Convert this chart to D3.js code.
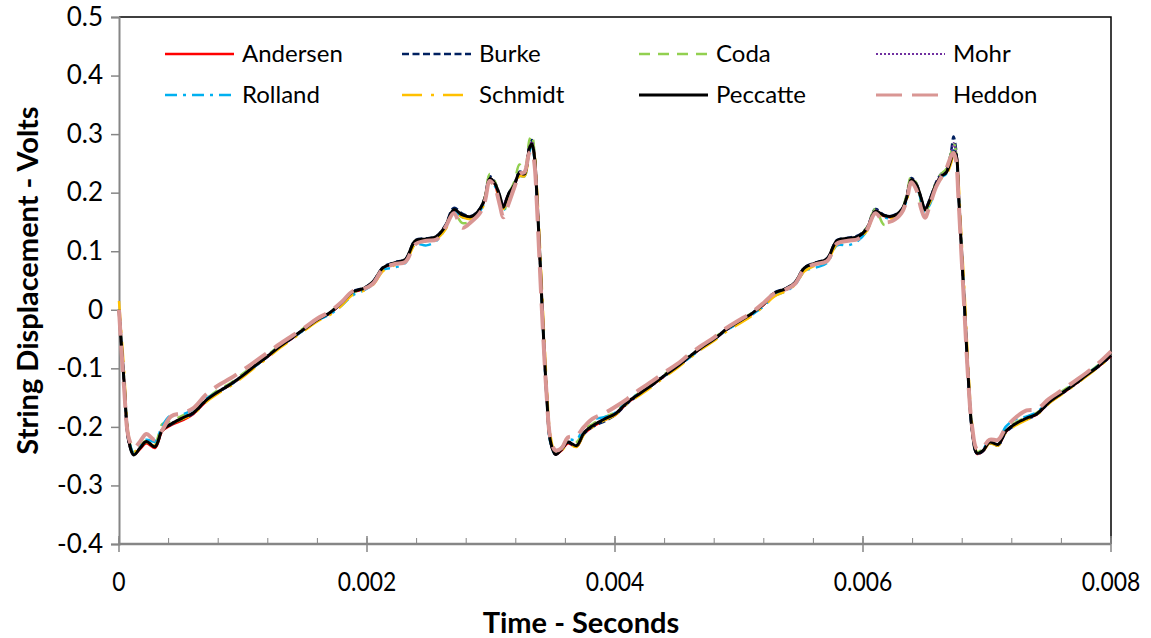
<!DOCTYPE html>
<html>
<head>
<meta charset="utf-8">
<script src="https://cdn.jsdelivr.net/npm/d3@7"></script>
<style>
  body { margin: 0; background: #fff; }
  text { font-family: Lato, "Open Sans", sans-serif; fill: #000; }
</style>
</head>
<body>
<section></section>
<script>
// time in milliseconds (axis shows seconds)
var timeMs = [
  0, 0.04, 0.08, 0.12, 0.17, 0.22, 0.29, 0.35, 0.42, 0.52,
  0.6, 0.7, 0.8, 0.9, 1.0, 1.1, 1.2, 1.3, 1.4, 1.5,
  1.6, 1.7, 1.8, 1.88, 1.98, 2.05, 2.13, 2.22, 2.31, 2.39,
  2.48, 2.56, 2.63, 2.7, 2.77, 2.84, 2.91, 2.95, 2.99, 3.03,
  3.07, 3.1, 3.14, 3.19, 3.23, 3.27, 3.31, 3.33, 3.35, 3.37,
  3.39, 3.42, 3.45, 3.48, 3.52,
  3.57, 3.62, 3.69, 3.75, 3.82, 3.92, 4.0, 4.1, 4.2, 4.3,
  4.4, 4.5, 4.6, 4.7, 4.8, 4.9, 5.0, 5.1, 5.2, 5.28,
  5.38, 5.45, 5.53, 5.62, 5.71, 5.79, 5.88, 5.96, 6.03, 6.1,
  6.17, 6.24, 6.31, 6.35, 6.39, 6.43, 6.47, 6.5, 6.54, 6.59,
  6.63, 6.67, 6.71, 6.73, 6.75, 6.77, 6.79, 6.82, 6.85, 6.88,
  6.92,
  6.97, 7.02, 7.09, 7.15, 7.22, 7.32, 7.4, 7.5, 7.6, 7.7, 7.8, 7.9, 8.0
];

var andersen = [
  0, -0.12, -0.226, -0.247, -0.238, -0.228, -0.236, -0.207, -0.197, -0.188,
  -0.178, -0.157, -0.141, -0.128, -0.113, -0.096, -0.08, -0.063, -0.048, -0.032,
  -0.017, -0.006, 0.012, 0.029, 0.036, 0.047, 0.071, 0.079, 0.085, 0.116,
  0.12, 0.124, 0.141, 0.169, 0.16, 0.157, 0.17, 0.188, 0.222, 0.215,
  0.185, 0.178, 0.196, 0.213, 0.233, 0.231, 0.278, 0.285, 0.263, 0.196,
  0.11, -0.03, -0.15, -0.226, -0.247,
  -0.24, -0.228, -0.234, -0.212, -0.2, -0.188, -0.18, -0.159, -0.144, -0.129,
  -0.113, -0.098, -0.081, -0.065, -0.051, -0.034, -0.021, -0.008, 0.009, 0.027,
  0.035, 0.045, 0.071, 0.079, 0.086, 0.117, 0.121, 0.124, 0.138, 0.168,
  0.16, 0.158, 0.169, 0.19, 0.222, 0.213, 0.188, 0.17, 0.187, 0.215,
  0.228, 0.234, 0.258, 0.272, 0.266, 0.202, 0.12, 0.0, -0.12, -0.206,
  -0.246,
  -0.241, -0.227, -0.231, -0.209, -0.197, -0.186, -0.179, -0.159, -0.144, -0.129, -0.113, -0.097, -0.079
];

var burke = [
  0, -0.122, -0.228, -0.247, -0.236, -0.226, -0.233, -0.206, -0.196, -0.186,
  -0.177, -0.156, -0.141, -0.128, -0.113, -0.096, -0.08, -0.063, -0.048, -0.033,
  -0.018, -0.006, 0.013, 0.031, 0.038, 0.049, 0.073, 0.081, 0.087, 0.119,
  0.122, 0.126, 0.144, 0.174, 0.164, 0.16, 0.173, 0.192, 0.228, 0.218,
  0.196, 0.176, 0.198, 0.216, 0.236, 0.234, 0.282, 0.29, 0.265, 0.196,
  0.108, -0.032, -0.152, -0.227, -0.247,
  -0.238, -0.227, -0.233, -0.212, -0.2, -0.19, -0.18, -0.16, -0.144, -0.129,
  -0.113, -0.098, -0.081, -0.065, -0.051, -0.034, -0.021, -0.008, 0.01, 0.029,
  0.037, 0.047, 0.073, 0.081, 0.088, 0.119, 0.123, 0.127, 0.14, 0.172,
  0.162, 0.161, 0.171, 0.192, 0.225, 0.216, 0.19, 0.172, 0.19, 0.218,
  0.232, 0.238, 0.27, 0.296, 0.275, 0.205, 0.12, -0.002, -0.122, -0.207,
  -0.246,
  -0.241, -0.228, -0.232, -0.21, -0.198, -0.187, -0.179, -0.159, -0.144, -0.129, -0.113, -0.097, -0.079
];

var coda = [
  0, -0.115, -0.222, -0.244, -0.232, -0.223, -0.228, -0.195, -0.19, -0.18,
  -0.172, -0.153, -0.137, -0.125, -0.109, -0.093, -0.077, -0.06, -0.045, -0.03,
  -0.016, -0.004, 0.012, 0.028, 0.035, 0.046, 0.07, 0.079, 0.085, 0.116,
  0.12, 0.124, 0.14, 0.166, 0.148, 0.152, 0.168, 0.192, 0.232, 0.22,
  0.19, 0.165, 0.195, 0.22, 0.248, 0.24, 0.29, 0.298, 0.27, 0.2,
  0.115, -0.025, -0.145, -0.222, -0.245,
  -0.235, -0.222, -0.226, -0.205, -0.195, -0.183, -0.175, -0.156, -0.141, -0.126,
  -0.11, -0.095, -0.078, -0.063, -0.048, -0.032, -0.019, -0.006, 0.01, 0.027,
  0.035, 0.045, 0.07, 0.079, 0.086, 0.116, 0.12, 0.124, 0.14, 0.172,
  0.145, 0.152, 0.168, 0.195, 0.228, 0.216, 0.18, 0.163, 0.185, 0.218,
  0.232, 0.24, 0.268, 0.285, 0.27, 0.205, 0.125, 0.005, -0.115, -0.2,
  -0.243,
  -0.236, -0.222, -0.226, -0.205, -0.194, -0.183, -0.176, -0.156, -0.14, -0.126, -0.11, -0.094, -0.076
];

var mohr = [
  0, -0.118, -0.224, -0.246, -0.235, -0.224, -0.232, -0.204, -0.194, -0.183,
  -0.175, -0.154, -0.139, -0.126, -0.111, -0.094, -0.078, -0.061, -0.046, -0.031,
  -0.016, -0.005, 0.013, 0.03, 0.037, 0.047, 0.071, 0.08, 0.086, 0.117,
  0.121, 0.125, 0.142, 0.17, 0.161, 0.158, 0.171, 0.19, 0.225, 0.217,
  0.19, 0.182, 0.198, 0.214, 0.235, 0.233, 0.279, 0.287, 0.264, 0.194,
  0.106, -0.03, -0.15, -0.224, -0.246,
  -0.237, -0.225, -0.231, -0.209, -0.197, -0.185, -0.177, -0.157, -0.142, -0.127,
  -0.111, -0.096, -0.079, -0.063, -0.049, -0.032, -0.019, -0.006, 0.011, 0.028,
  0.036, 0.046, 0.071, 0.08, 0.087, 0.117, 0.122, 0.125, 0.139, 0.17,
  0.16, 0.159, 0.17, 0.19, 0.223, 0.215, 0.19, 0.174, 0.19, 0.217,
  0.23, 0.236, 0.262, 0.285, 0.268, 0.2, 0.118, -0.002, -0.12, -0.205,
  -0.245,
  -0.239, -0.225, -0.229, -0.207, -0.195, -0.184, -0.177, -0.157, -0.142, -0.127, -0.111, -0.095, -0.077
];

var rolland = [
  0, -0.118, -0.222, -0.244, -0.232, -0.222, -0.225, -0.198, -0.18, -0.178,
  -0.17, -0.152, -0.14, -0.128, -0.112, -0.096, -0.079, -0.062, -0.048, -0.033,
  -0.018, -0.008, 0.008, 0.024, 0.034, 0.044, 0.068, 0.072, 0.08, 0.112,
  0.11, 0.118, 0.138, 0.168, 0.158, 0.154, 0.168, 0.186, 0.222, 0.212,
  0.188, 0.17, 0.19, 0.21, 0.228, 0.228, 0.27, 0.279, 0.258, 0.192,
  0.108, -0.035, -0.155, -0.228, -0.246,
  -0.235, -0.222, -0.222, -0.2, -0.188, -0.183, -0.176, -0.156, -0.142, -0.128,
  -0.113, -0.098, -0.082, -0.066, -0.051, -0.035, -0.022, -0.009, 0.006, 0.023,
  0.032, 0.042, 0.066, 0.072, 0.08, 0.11, 0.11, 0.118, 0.134, 0.165,
  0.158, 0.156, 0.166, 0.186, 0.218, 0.21, 0.186, 0.168, 0.18, 0.212,
  0.226, 0.232, 0.255, 0.272, 0.262, 0.198, 0.122, 0.002, -0.118, -0.206,
  -0.246,
  -0.238, -0.222, -0.222, -0.2, -0.188, -0.182, -0.175, -0.156, -0.142, -0.127, -0.111, -0.095, -0.077
];

var schmidt = [
  0.015, -0.1, -0.218, -0.242, -0.235, -0.226, -0.232, -0.206, -0.195, -0.186,
  -0.178, -0.158, -0.143, -0.13, -0.115, -0.098, -0.082, -0.065, -0.05, -0.035,
  -0.02, -0.009, 0.008, 0.025, 0.033, 0.043, 0.066, 0.076, 0.082, 0.112,
  0.117, 0.121, 0.136, 0.166, 0.158, 0.155, 0.166, 0.184, 0.219, 0.213,
  0.19, 0.172, 0.19, 0.208, 0.228, 0.228, 0.27, 0.28, 0.265, 0.21,
  0.13, -0.005, -0.13, -0.215, -0.245,
  -0.24, -0.23, -0.234, -0.213, -0.2, -0.188, -0.18, -0.16, -0.146, -0.131,
  -0.115, -0.1, -0.083, -0.067, -0.053, -0.037, -0.024, -0.011, 0.006, 0.022,
  0.032, 0.042, 0.066, 0.076, 0.083, 0.112, 0.118, 0.122, 0.134, 0.165,
  0.158, 0.156, 0.165, 0.183, 0.216, 0.212, 0.188, 0.17, 0.183, 0.21,
  0.224, 0.23, 0.25, 0.265, 0.266, 0.22, 0.14, 0.025, -0.1, -0.195,
  -0.243,
  -0.241, -0.228, -0.232, -0.21, -0.199, -0.188, -0.18, -0.16, -0.145, -0.13, -0.114, -0.098, -0.08
];

var peccatte = [
  0, -0.12, -0.225, -0.248, -0.236, -0.225, -0.234, -0.205, -0.195, -0.184,
  -0.176, -0.155, -0.14, -0.127, -0.112, -0.095, -0.079, -0.062, -0.047, -0.032,
  -0.017, -0.005, 0.013, 0.03, 0.037, 0.048, 0.072, 0.08, 0.086, 0.118,
  0.121, 0.125, 0.142, 0.171, 0.162, 0.159, 0.172, 0.19, 0.224, 0.216,
  0.195, 0.175, 0.197, 0.214, 0.234, 0.232, 0.276, 0.283, 0.262, 0.195,
  0.11, -0.03, -0.15, -0.225, -0.247,
  -0.238, -0.226, -0.232, -0.21, -0.198, -0.186, -0.178, -0.158, -0.143, -0.128,
  -0.112, -0.097, -0.08, -0.064, -0.05, -0.033, -0.02, -0.007, 0.01, 0.028,
  0.036, 0.046, 0.072, 0.08, 0.087, 0.118, 0.122, 0.125, 0.138, 0.168,
  0.161, 0.16, 0.17, 0.19, 0.222, 0.214, 0.19, 0.171, 0.188, 0.215,
  0.228, 0.234, 0.257, 0.27, 0.265, 0.2, 0.12, 0.0, -0.12, -0.205,
  -0.245,
  -0.24, -0.226, -0.23, -0.208, -0.196, -0.185, -0.178, -0.158, -0.143, -0.128, -0.112, -0.096, -0.078
];

var heddon = [
  0, -0.13, -0.22, -0.236, -0.225, -0.212, -0.222, -0.205, -0.182, -0.176,
  -0.168, -0.145, -0.129, -0.117, -0.103, -0.088, -0.073, -0.058, -0.044, -0.03,
  -0.015, -0.003, 0.014, 0.031, 0.036, 0.045, 0.07, 0.078, 0.082, 0.112,
  0.118, 0.12, 0.14, 0.165, 0.14, 0.15, 0.165, 0.185, 0.22, 0.21,
  0.18, 0.158, 0.18, 0.21, 0.232, 0.235, 0.268, 0.27, 0.25, 0.18,
  0.09, -0.04, -0.15, -0.22, -0.24,
  -0.236, -0.218, -0.215, -0.2, -0.186, -0.176, -0.166, -0.152, -0.136, -0.122,
  -0.107, -0.093, -0.076, -0.061, -0.047, -0.031, -0.018, -0.005, 0.012, 0.027,
  0.035, 0.044, 0.07, 0.078, 0.083, 0.113, 0.118, 0.121, 0.136, 0.165,
  0.15, 0.152, 0.165, 0.185, 0.218, 0.205, 0.172, 0.157, 0.18, 0.21,
  0.226, 0.24, 0.262, 0.268, 0.255, 0.19, 0.11, -0.01, -0.125, -0.2,
  -0.238,
  -0.234, -0.222, -0.222, -0.202, -0.186, -0.172, -0.17, -0.152, -0.138, -0.123, -0.108, -0.091, -0.071
];

var seriesNames = ["Andersen", "Burke", "Coda", "Mohr", "Rolland", "Schmidt", "Peccatte", "Heddon"];
var seriesValues = [andersen, burke, coda, mohr, rolland, schmidt, peccatte, heddon];
var seriesColors = ["#ff0000", "#002060", "#92d050", "#7030a0", "#00b0f0", "#ffc000", "#000000", "#d99694"];
var seriesDash = [null, "7,3.5", "11,8", "2,2", "12,6,3,6", "20,9,3,9", null, "26,10"];
var seriesWidth = [2.5, 2.5, 2.5, 2, 2.5, 2.5, 3, 4];

var yTicks = [0.5, 0.4, 0.3, 0.2, 0.1, 0, -0.1, -0.2, -0.3, -0.4];
var yTickLabels = ["0.5", "0.4", "0.3", "0.2", "0.1", "0", "-0.1", "-0.2", "-0.3", "-0.4"];
var xTicks = [0, 2, 4, 6, 8];
var xTickLabels = ["0", "0.002", "0.004", "0.006", "0.008"];

// plot area
var margin = {top: 17, right: 40, bottom: 94, left: 119},
  width = 1151 - margin.left - margin.right,
  height = 638 - margin.top - margin.bottom;

var svg = d3.select("section").append("svg")
    .attr("width", 1151)
    .attr("height", 638),
  g = svg.append("g")
    .attr("transform", "translate(" + margin.left + "," + margin.top + ")");

var x = d3.scaleLinear().domain([0, 8]).range([0, width]);
var y = d3.scaleLinear().domain([-0.4, 0.5]).range([height, 0]);

// frame top/right
g.append("path")
  .attr("d", "M0,0H" + width + "V" + height)
  .attr("fill", "none")
  .attr("stroke", "#000")
  .attr("stroke-width", 1.5);

// y axis
var yAxis = g.append("g")
  .call(d3.axisLeft(y).tickValues(yTicks).tickSize(8)
    .tickFormat(function(d, i) { return yTickLabels[i]; }));
yAxis.select(".domain").attr("stroke", "#868686").attr("stroke-width", 2);
yAxis.selectAll(".tick line").attr("stroke", "#868686").attr("stroke-width", 1.5);
yAxis.selectAll(".tick text")
  .attr("x", -16)
  .style("font-size", "26px")
  .style("font-family", "Lato, sans-serif")
  .attr("fill", "#000");

// x axis: minor ticks inside, major ticks cross
var xg = g.append("g").attr("transform", "translate(0," + height + ")");
xg.selectAll(".minor")
  .data(d3.range(0, 8.001, 0.4))
  .enter().append("line")
  .attr("class", "minor")
  .attr("x1", function(d) { return x(d); })
  .attr("x2", function(d) { return x(d); })
  .attr("y1", -6).attr("y2", 0)
  .attr("stroke", "#868686").attr("stroke-width", 1);
xg.selectAll(".major")
  .data(xTicks)
  .enter().append("line")
  .attr("class", "major")
  .attr("x1", function(d) { return x(d); })
  .attr("x2", function(d) { return x(d); })
  .attr("y1", -8).attr("y2", 8)
  .attr("stroke", "#868686").attr("stroke-width", 1.5);
xg.append("line")
  .attr("x1", 0).attr("x2", width)
  .attr("stroke", "#868686").attr("stroke-width", 2.5);
xg.selectAll(".xlab")
  .data(xTicks)
  .enter().append("text")
  .attr("class", "xlab")
  .attr("transform", function(d) { return "translate(" + x(d) + ",47) scale(0.88,1)"; })
  .attr("text-anchor", "middle")
  .style("font-size", "26px")
  .text(function(d, i) { return xTickLabels[i]; });

// lines
var line = d3.line()
  .x(function(d) { return x(d[0]); })
  .y(function(d) { return y(d[1]); })
  .curve(d3.curveCatmullRom.alpha(0.5));

seriesValues.forEach(function(vals, i) {
  g.append("path")
    .datum(timeMs.map(function(t, k) { return [t, vals[k]]; }))
    .attr("fill", "none")
    .attr("stroke", seriesColors[i])
    .attr("stroke-width", seriesWidth[i])
    .attr("stroke-dasharray", seriesDash[i])
    .attr("stroke-linejoin", "round")
    .attr("d", line);
});

// legend
var legend = svg.append("g").attr("transform", "translate(165,54)");
var item = legend.selectAll(".item")
  .data(seriesNames)
  .enter().append("g")
  .attr("transform", function(d, i) { return "translate(" + (i % 4) * 237 + "," + Math.floor(i / 4) * 41 + ")"; });
item.append("line")
  .attr("x1", 0).attr("x2", 69)
  .attr("stroke", function(d, i) { return seriesColors[i]; })
  .attr("stroke-width", function(d, i) { return Math.min(seriesWidth[i], 3); })
  .attr("stroke-dasharray", function(d, i) { return seriesDash[i]; });
item.append("text")
  .attr("x", 77)
  .attr("dy", "0.35em")
  .style("font-size", "24px")
  .text(function(d) { return d; });

// axis titles
svg.append("text")
  .attr("transform", "translate(38," + (margin.top + height / 2) + ") rotate(-90)")
  .attr("text-anchor", "middle")
  .style("font-size", "29px")
  .style("font-weight", "bold")
  .text("String Displacement - Volts");

svg.append("text")
  .attr("x", 581)
  .attr("y", 633)
  .attr("text-anchor", "middle")
  .style("font-size", "29px")
  .style("font-weight", "bold")
  .text("Time - Seconds");
</script>
</body>
</html>
